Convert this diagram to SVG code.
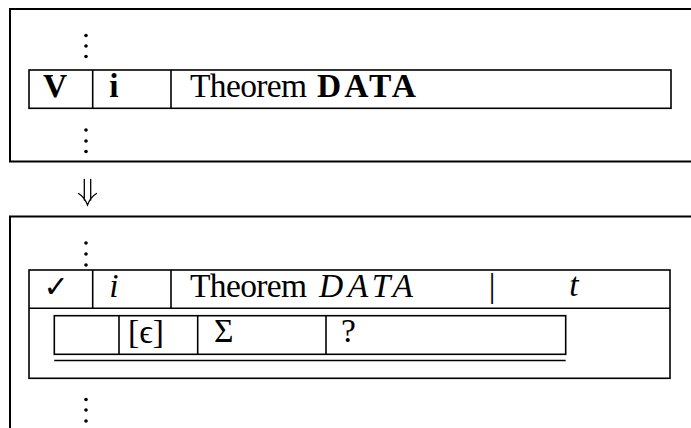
<svg xmlns="http://www.w3.org/2000/svg" width="691" height="428" viewBox="0 0 691 428">
<style>
.frame{fill:none;stroke:#000;stroke-width:2}
.tb{fill:none;stroke:#000;stroke-width:1.6}
.t{font-family:"Liberation Serif","DejaVu Serif",serif;font-size:33.5px;fill:#000}
.b{font-weight:bold}
.it{font-style:italic}
.dot{fill:#000}
.arrow{fill:none;stroke:#000;stroke-width:1.3;stroke-linecap:round}
</style>
<rect width="691" height="428" fill="#fff"/>
<g id="before">
  <path class="frame" d="M691,9 H10 V161.5 H691"/>
  <g id="dots-before-top"><circle class="dot" cx="86" cy="35.5" r="1.8"/><circle class="dot" cx="86" cy="46" r="1.8"/><circle class="dot" cx="86" cy="56.5" r="1.8"/></g>
  <g id="row-before">
    <rect class="tb" x="29" y="70" width="642" height="38.3"/>
    <line class="tb" x1="92.7" y1="70" x2="92.7" y2="108.3"/>
    <line class="tb" x1="171" y1="70" x2="171" y2="108.3"/>
    <text class="t b" x="55" y="97" text-anchor="middle">V</text>
    <text class="t b" x="114" y="97" text-anchor="middle">i</text>
    <text class="t" x="190" y="97" textLength="117">Theorem</text>
    <text class="t b" x="317" y="97" textLength="99">DATA</text>
  </g>
  <g id="dots-before-bottom"><circle class="dot" cx="86" cy="130" r="1.8"/><circle class="dot" cx="86" cy="141" r="1.8"/><circle class="dot" cx="86" cy="151.5" r="1.8"/></g>
</g>
<g id="connectors">
  <path class="arrow" d="M84.3,179.5 V200 M90.7,179.5 V200 M78.5,193.5 Q84.5,197 87.5,205 Q90.5,197 96.5,193.5"/>
</g>
<g id="after">
  <path class="frame" d="M691,216.5 H10 V428"/>
  <g id="dots-after-top"><circle class="dot" cx="86" cy="243" r="1.8"/><circle class="dot" cx="86" cy="254" r="1.8"/><circle class="dot" cx="86" cy="265" r="1.8"/></g>
  <g id="row-after">
    <rect class="tb" x="29" y="270" width="641" height="108.3"/>
    <line class="tb" x1="29" y1="308.3" x2="670" y2="308.3"/>
    <line class="tb" x1="92.7" y1="270" x2="92.7" y2="308.3"/>
    <line class="tb" x1="171" y1="270" x2="171" y2="308.3"/>
    <text x="56" y="297" text-anchor="middle" style="font-family:'DejaVu Sans',sans-serif;font-size:30px;font-weight:bold;fill:#000">✓</text>
    <text class="t it" x="114" y="297" text-anchor="middle">i</text>
    <text class="t" x="190" y="297" textLength="117">Theorem</text>
    <text class="t it" x="319" y="297" textLength="94">DATA</text>
    <text class="t" x="492" y="297" text-anchor="middle">|</text>
    <text class="t it" x="574" y="296" text-anchor="middle">t</text>
  </g>
  <g id="subrow">
    <rect class="tb" x="54.3" y="315.7" width="511.4" height="38.6"/>
    <line class="tb" x1="119" y1="315.7" x2="119" y2="354.3"/>
    <line class="tb" x1="197.7" y1="315.7" x2="197.7" y2="354.3"/>
    <line class="tb" x1="326" y1="315.7" x2="326" y2="354.3"/>
    <line class="tb" x1="54.3" y1="360.5" x2="565.7" y2="360.5"/>
    <text class="t" x="128" y="343">[ϵ]</text>
    <text class="t" x="214" y="342">Σ</text>
    <text class="t" x="341" y="342">?</text>
  </g>
  <g id="dots-after-bottom"><circle class="dot" cx="86" cy="399.5" r="1.8"/><circle class="dot" cx="86" cy="410" r="1.8"/><circle class="dot" cx="86" cy="421" r="1.8"/></g>
</g>
</svg>
